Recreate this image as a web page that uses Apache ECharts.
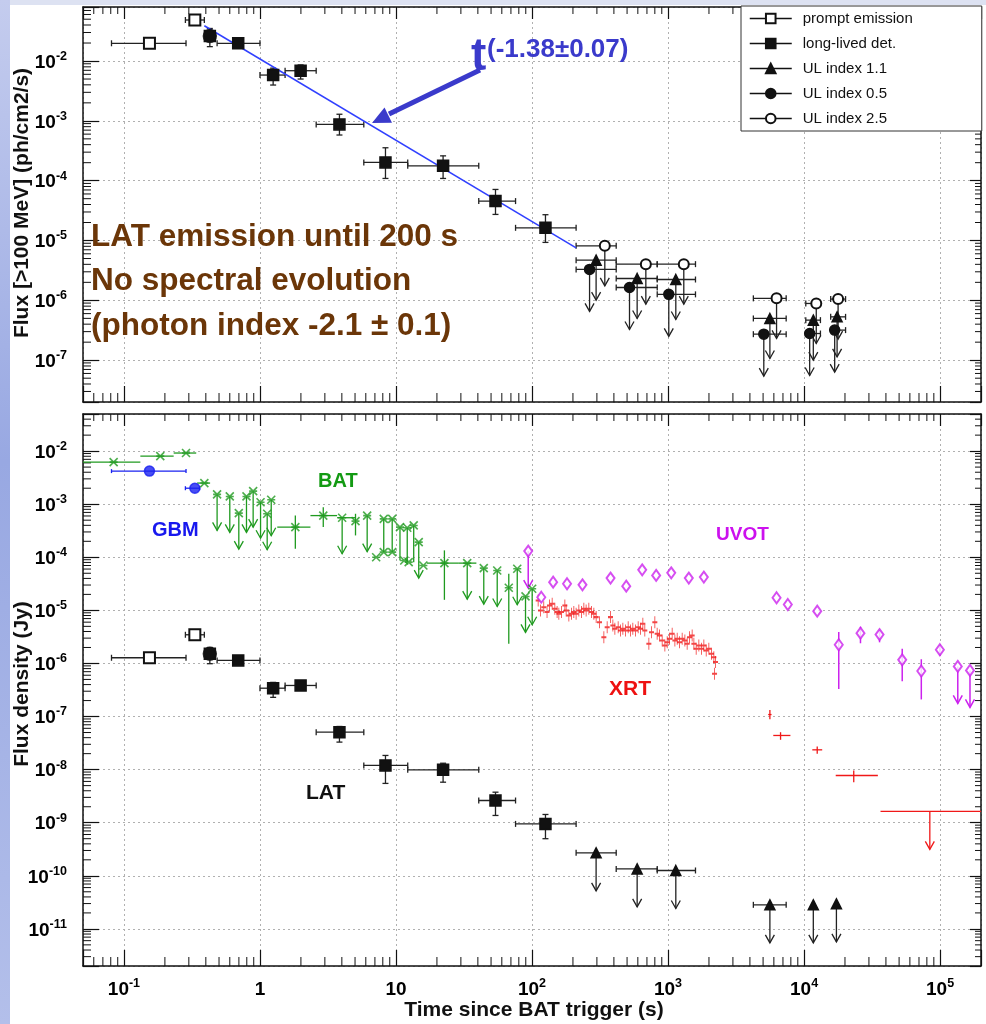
<!DOCTYPE html>
<html><head><meta charset="utf-8">
<script src="https://cdn.jsdelivr.net/npm/echarts@6.0.0/dist/echarts.min.js"></script>
<style>html,body{margin:0;padding:0;background:#fff;}#c{width:986px;height:1024px;}</style>
</head><body><div id="c"></div>
<script>
// ---------------- DATA (time in s, flux in native units) ----------------
// Top panel: LAT flux >100 MeV (ph/cm2/s)   rows: [t, flux, tLo, tHi, fLo, fHi]
const topPrompt = [
  [0.154, 0.0198, 0.081, 0.286, null, null],
  [0.332, 0.0485, 0.283, 0.390, null, null]
];
const topLong = [
  [0.428, 0.0262, null, null, 0.0174, 0.035],
  [0.692, 0.0198, 0.484, 1.0, null, null],
  [1.25, 0.00583, 1.0, 1.53, 0.00397, 0.0076],
  [1.99, 0.00689, 1.53, 2.59, 0.005, 0.0086],
  [3.84, 8.73e-4, 2.59, 5.8, 5.8e-4, 1.29e-3],
  [8.37, 2.02e-4, 5.8, 12.2, 1.09e-4, 3.55e-4],
  [22.2, 1.77e-4, 12.2, 40.6, 1.09e-4, 2.6e-4],
  [53.9, 4.56e-5, 40.6, 75.7, 2.73e-5, 7.14e-5],
  [125.6, 1.63e-5, 75.7, 211, 9.3e-6, 2.7e-5]
];
// upper limits: [t, flux, tLo, tHi]
const topUL11 = [
  [296, 4.7e-6, 211, 416], [593, 2.32e-6, 416, 833], [1141, 2.23e-6, 833, 1592],
  [5610, 4.98e-7, 4240, 7390], [11700, 4.67e-7, 10300, 13200], [17500, 5.3e-7, 15700, 20200]
];
const topUL05 = [
  [265, 3.29e-6, 211, 416], [521, 1.64e-6, 416, 833], [1013, 1.26e-6, 833, 1592],
  [5060, 2.72e-7, 4240, 7390], [11000, 2.79e-7, 10300, 13200], [16800, 3.18e-7, 15700, 20200]
];
const topUL25 = [
  [343, 8.15e-6, 211, 416], [687, 4.03e-6, 416, 833], [1306, 4.03e-6, 833, 1592],
  [6280, 1.08e-6, 4240, 7390], [12300, 8.87e-7, 10300, 13200], [17800, 1.05e-6, 15700, 20200]
];
const topFit = [[0.39, 0.0389], [211, 7.55e-6]];

// Bottom panel: flux density (Jy)
const botPrompt = [
  [0.154, 1.28e-6, 0.081, 0.286, null, null],
  [0.332, 3.47e-6, 0.283, 0.390, null, null]
];
const botLong = [
  [0.428, 1.52e-6, null, null, 9.9e-7, 2.0e-6],
  [0.692, 1.14e-6, 0.484, 1.0, null, null],
  [1.25, 3.42e-7, 1.0, 1.53, 2.3e-7, 4.4e-7],
  [1.99, 3.85e-7, 1.53, 2.59, null, null],
  [3.84, 5.07e-8, 2.59, 5.8, 3.3e-8, 6.5e-8],
  [8.37, 1.2e-8, 5.8, 12.2, 5.5e-9, 1.85e-8],
  [22.2, 9.9e-9, 12.2, 40.6, 5.8e-9, 1.32e-8],
  [53.9, 2.62e-9, 40.6, 75.7, 1.37e-9, 3.76e-9],
  [125.6, 9.5e-10, 75.7, 211, 5.0e-10, 1.43e-9]
];
const botUL = [
  [296, 2.71e-10, 211, 416], [593, 1.35e-10, 416, 833], [1141, 1.26e-10, 833, 1592],
  [5610, 2.84e-11, 4240, 7390], [11700, 2.84e-11, null, null], [17300, 2.96e-11, null, null]
];
const gbm = [
  [0.154, 4.2e-3, 0.081, 0.286], [0.332, 2.0e-3, 0.283, 0.36]
];
// BAT: [t, f, tLo, tHi, fLo, fHi, upperLimit]
const bat = [
  [0.084, 6.2e-3, 0.05, 0.132, null, null, 0],
  [0.185, 8.05e-3, 0.132, 0.232, null, null, 0],
  [0.286, 9.2e-3, 0.232, 0.34, null, null, 0],
  [0.39, 2.5e-3, 0.345, 0.43, null, null, 0],
  [0.484, 1.53e-3, null, null, null, null, 1],
  [0.6, 1.4e-3, null, null, null, null, 1],
  [0.699, 6.8e-4, null, null, null, null, 1],
  [0.796, 1.4e-3, null, null, null, null, 1],
  [0.891, 1.76e-3, null, null, null, null, 1],
  [1.01, 1.09e-3, null, null, null, null, 1],
  [1.13, 6.6e-4, null, null, null, null, 1],
  [1.21, 1.21e-3, null, null, null, null, 1],
  [1.82, 3.7e-4, 1.34, 2.35, 1.45e-4, 6.1e-4, 0],
  [2.92, 6.1e-4, 2.35, 3.69, 3.7e-4, 8.8e-4, 0],
  [4.02, 5.56e-4, 3.69, 5.0, null, null, 1],
  [5.04, 4.8e-4, null, null, 2.58e-4, 6.6e-4, 0],
  [6.14, 6.1e-4, null, null, null, null, 1],
  [7.15, 1.0e-4, null, null, null, null, 0],
  [8.13, 5.3e-4, null, null, 1.25e-4, null, 0],
  [9.38, 5.3e-4, null, null, 1.25e-4, null, 0],
  [8.13, 1.25e-4, null, null, null, null, 0],
  [9.38, 1.25e-4, null, null, null, null, 0],
  [10.7, 3.7e-4, null, null, 8.7e-5, null, 0],
  [12.1, 3.6e-4, null, null, 8.1e-5, null, 0],
  [13.5, 3.98e-4, null, null, 8.1e-5, null, 0],
  [11.5, 8.7e-5, null, null, null, null, 0],
  [12.4, 8.1e-5, null, null, null, null, 0],
  [14.7, 1.93e-4, null, null, null, null, 1],
  [15.9, 7.0e-5, null, null, null, null, 0],
  [22.7, 7.76e-5, 16.9, 29, 1.58e-5, 1.35e-4, 0],
  [33.4, 7.76e-5, 29, 39, null, null, 1],
  [44.2, 6.24e-5, null, null, null, null, 1],
  [55.5, 5.65e-5, null, null, null, null, 1],
  [67.5, 2.67e-5, null, null, 2.35e-6, 4.9e-5, 0],
  [77.9, 6.08e-5, null, null, null, null, 1],
  [89.6, 1.83e-5, null, null, null, null, 1],
  [100.3, 2.55e-5, null, null, null, null, 1]
];
// XRT light curve points [t, f]
const xrt = [
  [111,1.54e-5],[115.5,9.96e-6],[122,1.15e-5],[129,9.27e-6],[134.5,1.24e-5],[140.7,1.33e-5],
  [147.2,1.07e-5],[153,9.27e-6],[157.5,8.62e-6],[164.8,9.27e-6],[174.4,1.24e-5],[178.3,9.96e-6],
  [186.6,8.02e-6],[195.2,8.62e-6],[203,9.27e-6],[211,8.62e-6],[221,9.96e-6],[231,9.27e-6],
  [240.5,1.07e-5],[250,9.96e-6],[261.7,1.07e-5],[273.8,9.27e-6],[284.9,8.62e-6],[296.3,7.46e-6],
  [313.5,6.0e-6],[337.5,3.13e-6],[357,4.83e-6],[377.7,7.46e-6],[393,5.2e-6],[406.6,4.5e-6],
  [430,4.83e-6],[447.4,4.18e-6],[465.5,4.5e-6],[487,4.18e-6],[509.5,4.83e-6],[530,4.18e-6],
  [551,4.5e-6],[577,4.18e-6],[603.5,4.83e-6],[628,4.5e-6],[653,5.58e-6],[675,4.18e-6],
  [723,2.34e-6],[756,3.89e-6],[800,6.0e-6],[832,3.62e-6],[866,3.37e-6],[906,2.71e-6],
  [948,2.18e-6],[986,2.52e-6],[1026,2.91e-6],[1073,3.62e-6],[1123,2.71e-6],[1168,2.91e-6],
  [1215,2.52e-6],[1271,2.91e-6],[1330,2.71e-6],[1383,2.34e-6],[1439,3.13e-6],[1505,3.37e-6],
  [1549,2.34e-6],[1611,1.89e-6],[1685,2.18e-6],[1763,1.89e-6],[1834,2.18e-6],[1909,1.76e-6],
  [1996,1.89e-6],[2088,1.52e-6],[2173,1.31e-6],[2235,1.06e-6],[2198,6.38e-7]
];
// late XRT: [t, f, tLo, tHi, fLo, fHi, upperLimit]
const xrtLate = [
  [5610, 1.09e-7, 5450, 5770, 8.9e-8, 1.33e-7, 0],
  [6720, 4.4e-8, 5940, 7940, 3.65e-8, 5.07e-8, 0],
  [12500, 2.36e-8, 11500, 13600, 1.99e-8, 2.73e-8, 0],
  [23200, 7.75e-9, 17100, 34900, 5.8e-9, 9.6e-9, 0],
  [84100, 1.64e-9, 36500, 200000, null, null, 1]
];
// UVOT: [t, f, fLo, fHi, upperLimit]
const uvot = [
  [93.8, 1.31e-4, null, null, 1], [117, 1.77e-5, null, null, 0], [143, 3.4e-5, null, null, 0],
  [181, 3.17e-5, null, null, 0], [235, 3.03e-5, null, null, 0], [378, 4.05e-5, null, null, 0],
  [493, 2.86e-5, null, null, 0], [646, 5.8e-5, null, null, 0], [818, 4.55e-5, null, null, 0],
  [1056, 5.1e-5, null, null, 0], [1422, 4.05e-5, null, null, 0], [1834, 4.23e-5, null, null, 0],
  [6280, 1.73e-5, null, null, 0], [7600, 1.29e-5, null, null, 0], [12500, 9.66e-6, null, null, 0],
  [18000, 2.25e-6, 3.3e-7, 3.9e-6, 0], [26000, 3.72e-6, 2.4e-6, 4.9e-6, 0],
  [35900, 3.5e-6, 2.5e-6, 4.3e-6, 0], [52700, 1.17e-6, 4.6e-7, 1.9e-6, 0],
  [72800, 7.2e-7, 2.1e-7, 1.2e-6, 0], [99700, 1.81e-6, 1.41e-6, 2.18e-6, 0],
  [135000, 8.8e-7, null, null, 1], [166000, 7.4e-7, null, null, 1]
];
const legendNames = ['prompt emission', 'long-lived det.', 'UL index 1.1', 'UL index 0.5', 'UL index 2.5'];

// ---------------- helpers ----------------
const L = v => Math.log10(v);
const X_MIN = L(0.05), X_MAX = L(2e5);
const YT_MIN = L(2e-8), YT_MAX = L(8e-2);
const YB_MIN = L(2e-12), YB_MAX = L(5e-2);
const FONT = '"Liberation Sans", Arial, sans-serif';

function rows(arr, ulAll) {
  return arr.map(r => {
    const t = r[0], f = r[1];
    const tLo = r[2] ?? t, tHi = r[3] ?? t, fLo = r[4] ?? f, fHi = r[5] ?? f;
    const ul = ulAll ? 1 : (r[6] || 0);
    return [L(t), L(f), L(tLo), L(tHi), L(fLo), L(fHi), ul];
  });
}
function uvotRows(arr) {
  return arr.map(r => [L(r[0]), L(r[1]), L(r[0]), L(r[0]), L(r[2] ?? r[1]), L(r[3] ?? r[1]), r[4]]);
}
const pts = arr => arr.map(r => [L(r[0]), L(r[1])]);

function errRender(o) {
  return function (params, api) {
    const c = api.coord([api.value(0), api.value(1)]);
    const xa = api.coord([api.value(2), api.value(1)])[0];
    const xb = api.coord([api.value(3), api.value(1)])[0];
    const ya = api.coord([api.value(0), api.value(4)])[1];
    const yb = api.coord([api.value(0), api.value(5)])[1];
    const ul = api.value(6);
    const st = { stroke: o.color, lineWidth: o.width, fill: null };
    const ch = [];
    const ln = (x1, y1, x2, y2) => ch.push({ type: 'line', shape: { x1, y1, x2, y2 }, style: st });
    if (Math.abs(xb - xa) > 0.5) {
      ln(xa, c[1], xb, c[1]);
      if (o.cap) { ln(xa, c[1] - o.cap, xa, c[1] + o.cap); ln(xb, c[1] - o.cap, xb, c[1] + o.cap); }
    }
    if (Math.abs(yb - ya) > 0.5) {
      ln(c[0], ya, c[0], yb);
      if (o.cap) { ln(c[0] - o.cap, ya, c[0] + o.cap, ya); ln(c[0] - o.cap, yb, c[0] + o.cap, yb); }
    }
    if (ul) {
      const y2 = c[1] + o.arrow;
      ln(c[0], c[1], c[0], y2);
      ch.push({ type: 'polyline', shape: { points: [[c[0] - 4.5, y2 - 8], [c[0], y2], [c[0] + 4.5, y2 - 8]] }, style: st });
    }
    return { type: 'group', children: ch };
  };
}
function errSeries(data, gi, o) {
  return { type: 'custom', xAxisIndex: gi * 2, yAxisIndex: gi * 2, data, renderItem: errRender(o),
           silent: true, z: 2, animation: false };
}
function mark(type, name, data, gi, symbol, size, color, bw) {
  const s = { type, name, xAxisIndex: gi * 2, yAxisIndex: gi * 2, data: pts(data), symbol, symbolSize: size,
    itemStyle: { color: color, borderColor: color, borderWidth: bw || 1.5 }, silent: true, z: 3, animation: false };
  if (type === 'line') { s.showSymbol = true; s.showAllSymbol = true; s.lineStyle = { width: 0, color: color }; }
  return s;
}
// the earliest long-lived point is drawn with an extra round marker, as in the original figure
function firstRound(s) {
  s.data = s.data.map((v, i) => i === 0 ? { value: v, symbol: 'circle', symbolSize: 13 } : v);
  return s;
}
function minorRender(yMin, yMax) {
  return function (params, api) {
    const ch = []; const st = { stroke: '#111', lineWidth: 1 };
    const ln = (x1, y1, x2, y2) => ch.push({ type: 'line', shape: { x1, y1, x2, y2 }, style: st });
    for (let n = Math.floor(X_MIN); n <= Math.ceil(X_MAX); n++) for (let k = 2; k <= 9; k++) {
      const v = n + Math.log10(k); if (v <= X_MIN || v >= X_MAX) continue;
      const pb = api.coord([v, yMin]), pt = api.coord([v, yMax]);
      ln(pb[0], pb[1], pb[0], pb[1] - 9); ln(pt[0], pt[1], pt[0], pt[1] + 7);
    }
    for (let n = Math.floor(yMin); n <= Math.ceil(yMax); n++) for (let k = 2; k <= 9; k++) {
      const v = n + Math.log10(k); if (v <= yMin || v >= yMax) continue;
      const pl = api.coord([X_MIN, v]), pr = api.coord([X_MAX, v]);
      ln(pl[0], pl[1], pl[0] + 8, pl[1]); ln(pr[0], pr[1], pr[0] - 6, pr[1]);
    }
    return { type: 'group', children: ch };
  };
}
function fmt(v) {
  const n = Math.round(v);
  if (Math.abs(v - n) > 1e-6) return '';
  if (n === 0) return '{b|1}';
  if (n === 1) return '{b|10}';
  return '{b|10}{s|' + n + '}';
}
const rich = {
  b: { fontSize: 19, fontWeight: 'bold', fontFamily: FONT, color: '#000', verticalAlign: 'bottom', lineHeight: 22 },
  s: { fontSize: 12.5, fontWeight: 'bold', fontFamily: FONT, color: '#000', verticalAlign: 'top', lineHeight: 18 }
};
const lineSt = { color: '#111', width: 1.5 };
function xAx(gi, pos, labels) {
  return { type: 'value', gridIndex: gi, position: pos, min: X_MIN, max: X_MAX, splitNumber: 7, minInterval: 1, maxInterval: 1,
    axisLine: { show: true, onZero: false, lineStyle: lineSt },
    axisTick: { show: true, inside: true, length: pos === 'bottom' ? 16 : 12, lineStyle: { color: '#111', width: 1.2 } },
    axisLabel: { show: labels, formatter: fmt, rich, margin: 11 },
    splitLine: { show: pos === 'bottom', lineStyle: { type: [2, 3], color: '#b0b0b0', width: 1 } } };
}
function yAx(gi, pos, mn, mx, splitN) {
  return { type: 'value', gridIndex: gi, position: pos, min: mn, max: mx, splitNumber: splitN, minInterval: 1, maxInterval: 1,
    axisLine: { show: true, onZero: false, lineStyle: lineSt },
    axisTick: { show: true, inside: true, length: pos === 'left' ? 16 : 11, lineStyle: { color: '#111', width: 1.2 } },
    axisLabel: { show: pos === 'left', formatter: fmt, rich, margin: 16 },
    splitLine: { show: pos === 'left', lineStyle: { type: [2, 3], color: '#b0b0b0', width: 1 } } };
}

const BLACK = '#111', GREEN = '#1f9a1f', BLUE = '#1a22f0', RED = '#f01818', MAG = '#cc22ee';
const series = [
  // frame minor ticks
  { type: 'custom', xAxisIndex: 0, yAxisIndex: 0, data: [[X_MIN, YT_MIN]], renderItem: minorRender(YT_MIN, YT_MAX), silent: true, z: 1 },
  { type: 'custom', xAxisIndex: 2, yAxisIndex: 2, data: [[X_MIN, YB_MIN]], renderItem: minorRender(YB_MIN, YB_MAX), silent: true, z: 1 },
  // top panel
  { type: 'line', xAxisIndex: 0, yAxisIndex: 0, data: pts(topFit), symbol: 'none', lineStyle: { color: '#3040ff', width: 1.5 }, silent: true, z: 2 },
  errSeries(rows(topPrompt), 0, { color: '#222', width: 1.3, cap: 3 }),
  errSeries(rows(topLong), 0, { color: '#222', width: 1.3, cap: 3 }),
  errSeries(rows(topUL11, true), 0, { color: '#222', width: 1.3, cap: 3, arrow: 40 }),
  errSeries(rows(topUL05, true), 0, { color: '#222', width: 1.3, cap: 3, arrow: 42 }),
  errSeries(rows(topUL25, true), 0, { color: '#222', width: 1.3, cap: 3, arrow: 40 }),
  mark('line', legendNames[0], topPrompt, 0, 'emptyRect', 11, BLACK),
  mark('line', legendNames[1], topLong, 0, 'rect', 11, BLACK),
  firstRound(mark('scatter', 'round', topLong.slice(0, 1), 0, 'circle', 13, BLACK)),
  mark('line', legendNames[2], topUL11, 0, 'triangle', 10, BLACK),
  mark('line', legendNames[3], topUL05, 0, 'circle', 10, BLACK),
  mark('line', legendNames[4], topUL25, 0, 'emptyCircle', 10, BLACK),
  // bottom panel
  errSeries(rows(gbm), 1, { color: BLUE, width: 1.3, cap: 2 }),
  mark('scatter', 'GBM', gbm, 1, 'circle', 10, BLUE),
  errSeries(rows(bat), 1, { color: GREEN, width: 1.3, cap: 0, arrow: 36 }),
  Object.assign(mark('scatter', 'BAT', bat, 1, 'path://M0,0L10,10M0,10L10,0M0,5L10,5', 8, GREEN),
    { itemStyle: { color: 'rgba(0,0,0,0)', borderColor: GREEN, borderWidth: 1.6 } }),
  Object.assign(mark('scatter', 'XRT', xrt, 1, 'path://M5,0L5,12M2,6L8,6', [5, 12], RED),
    { itemStyle: { color: 'rgba(0,0,0,0)', borderColor: RED, borderWidth: 1.3 } }),
  errSeries(rows(xrtLate), 1, { color: RED, width: 1.3, cap: 0, arrow: 38 }),
  errSeries(uvotRows(uvot), 1, { color: MAG, width: 1.5, cap: 0, arrow: 37 }),
  mark('scatter', 'UVOT', uvot, 1, 'emptyDiamond', [8, 11], MAG, 1.6),
  errSeries(rows(botPrompt), 1, { color: '#222', width: 1.3, cap: 3 }),
  errSeries(rows(botLong), 1, { color: '#222', width: 1.3, cap: 3 }),
  errSeries(rows(botUL, true), 1, { color: '#222', width: 1.3, cap: 3, arrow: 38 }),
  mark('line', legendNames[0], botPrompt, 1, 'emptyRect', 11, BLACK),
  mark('line', legendNames[1], botLong, 1, 'rect', 11, BLACK),
  firstRound(mark('scatter', 'round', botLong.slice(0, 1), 1, 'circle', 13, BLACK)),
  mark('line', legendNames[2], botUL, 1, 'triangle', 10, BLACK)
];

const txt = (text, x, y, size, color, extra) => Object.assign({ type: 'text', x, y, z: 50,
  style: { text, font: 'bold ' + size + 'px ' + FONT, fill: color, align: 'left', verticalAlign: 'middle' } }, extra || {});
const BROWN = '#6b3608', ANN = '#3a3acb';
const graphic = [
  { type: 'rect', shape: { x: 0, y: 0, width: 986, height: 5 }, style: { fill: '#dde2f2' }, z: -5 },
  { type: 'rect', shape: { x: 0, y: 0, width: 10, height: 1024 },
    style: { fill: new echarts.graphic.LinearGradient(0, 0, 0, 1, [
      { offset: 0, color: '#c4ccee' }, { offset: 0.45, color: '#98a8e2' }, { offset: 1, color: '#b3bfea' }]) }, z: -5 },
  txt('t', 471, 57, 46, ANN),
  txt('(-1.38±0.07)', 487, 50, 26, ANN),
  { type: 'polyline', shape: { points: [[480, 70], [389, 114]] }, style: { stroke: ANN, lineWidth: 5 }, z: 50 },
  { type: 'polygon', shape: { points: [[372, 123], [384.5, 107.5], [392, 122.8]] }, style: { fill: ANN }, z: 50 },
  txt('LAT emission until 200 s', 91, 237, 31.5, BROWN),
  txt('No spectral evolution', 91, 281, 31.5, BROWN),
  txt('(photon index -2.1 ± 0.1)', 91, 326, 31.5, BROWN),
  txt('BAT', 318, 481, 20, '#139a13'),
  txt('GBM', 152, 530, 20, '#1818ee'),
  txt('UVOT', 716, 535, 19, '#cc11ee'),
  txt('XRT', 609, 689, 21, '#ee1111'),
  txt('LAT', 306, 793, 21, '#111'),
  { type: 'text', x: 22, y: 203, rotation: Math.PI / 2, z: 50,
    style: { text: 'Flux [>100 MeV] (ph/cm2/s)', font: 'bold 21px ' + FONT, fill: '#111', align: 'center', verticalAlign: 'middle' } },
  { type: 'text', x: 22, y: 684, rotation: Math.PI / 2, z: 50,
    style: { text: 'Flux density (Jy)', font: 'bold 21px ' + FONT, fill: '#111', align: 'center', verticalAlign: 'middle' } },
  { type: 'text', x: 534, y: 1010, z: 50,
    style: { text: 'Time since BAT trigger (s)', font: 'bold 21px ' + FONT, fill: '#111', align: 'center', verticalAlign: 'middle' } }
];

const chart = echarts.init(document.getElementById('c'), null, { renderer: 'canvas' });
chart.setOption({
  animation: false,
  backgroundColor: '#fff',
  textStyle: { fontFamily: FONT },
  grid: [
    { left: 83, top: 7, width: 898, height: 395, containLabel: false, outerBoundsMode: 'none' },
    { left: 83, top: 414, width: 898, height: 552, containLabel: false, outerBoundsMode: 'none' }
  ],
  xAxis: [xAx(0, 'bottom', false), xAx(0, 'top', false), xAx(1, 'bottom', true), xAx(1, 'top', false)],
  yAxis: [yAx(0, 'left', YT_MIN, YT_MAX, 7), yAx(0, 'right', YT_MIN, YT_MAX, 7),
          yAx(1, 'left', YB_MIN, YB_MAX, 10), yAx(1, 'right', YB_MIN, YB_MAX, 10)],
  legend: {
    data: legendNames, orient: 'vertical', left: 741, top: 6, selectedMode: false,
    itemWidth: 42, itemHeight: 12, itemGap: 10, padding: [5, 69, 5, 8],
    backgroundColor: '#fff', borderColor: '#333', borderWidth: 1, borderRadius: 0,
    textStyle: { fontSize: 15, color: '#111', fontFamily: FONT, padding: [0, 0, 0, 6] },
    lineStyle: { width: 1.5, color: '#111' }, z: 10
  },
  graphic,
  series
});
</script></body></html>
